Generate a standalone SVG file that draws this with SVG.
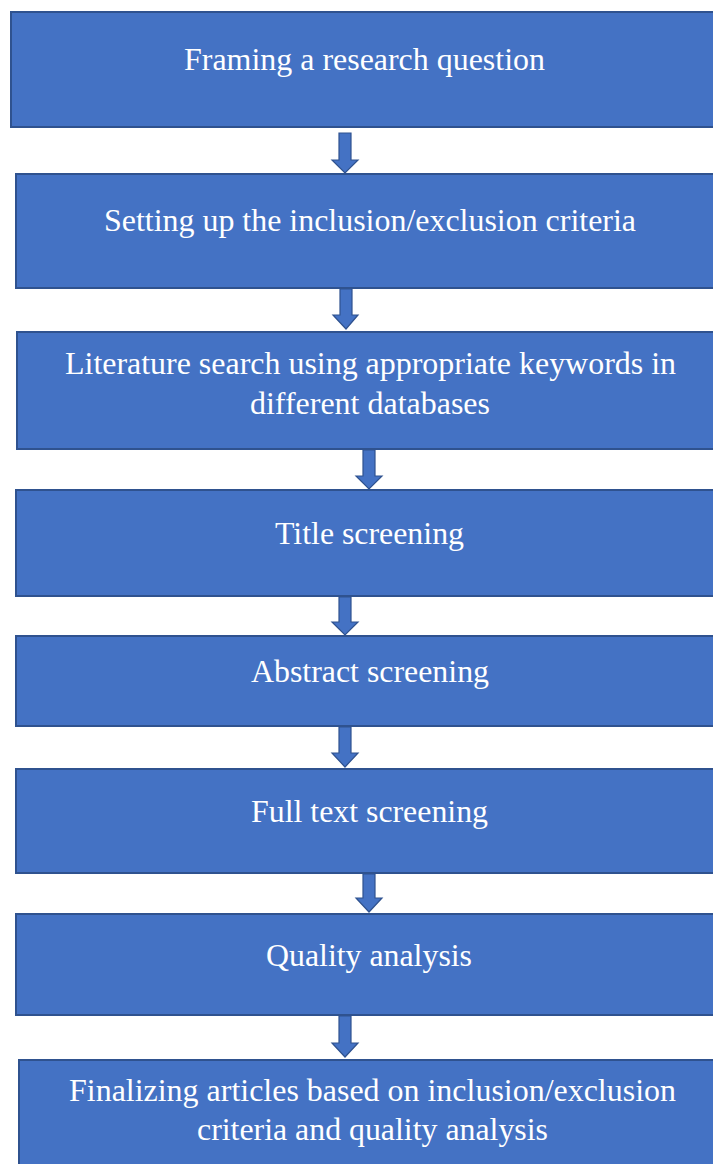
<svg xmlns="http://www.w3.org/2000/svg" width="713" height="1164" viewBox="0 0 713 1164">
  <style>
    .box { fill: #4472C4; stroke: #2F528F; stroke-width: 2; }
    .arrow { fill: #4472C4; stroke: #2F528F; stroke-width: 1.2; stroke-linejoin: miter; }
    .label { fill: #FFFFFF; font-family: "Liberation Serif", "Times New Roman", serif; font-size: 31px; text-anchor: middle; }
  </style>
  <rect width="713" height="1164" fill="#FFFFFF"/>

  <g id="connectors">
    <path class="arrow" d="M339,133 H351 V160 H358 L345,173 L332,160 H339 Z"/>
    <path class="arrow" d="M340,289 H352 V315 H358 L346,329 L333,315 H340 Z"/>
    <path class="arrow" d="M363,450 H375 V476 H382 L369,489 L356,476 H363 Z"/>
    <path class="arrow" d="M339,597 H351 V622 H358 L345,635 L332,622 H339 Z"/>
    <path class="arrow" d="M339,727 H351 V753 H358 L345,767 L332,753 H339 Z"/>
    <path class="arrow" d="M363,874 H375 V898 H382 L369,912 L356,898 H363 Z"/>
    <path class="arrow" d="M339,1016 H351 V1043 H358 L345,1057 L332,1043 H339 Z"/>
  </g>

  <g id="node-framing">
    <rect class="box" x="11" y="12" width="712" height="115"/>
    <text class="label" x="364.5" y="70" textLength="361" lengthAdjust="spacingAndGlyphs">Framing a research question</text>
  </g>

  <g id="node-criteria">
    <rect class="box" x="16" y="174" width="707" height="114"/>
    <text class="label" x="370" y="231" textLength="532" lengthAdjust="spacingAndGlyphs">Setting up the inclusion/exclusion criteria</text>
  </g>

  <g id="node-search">
    <rect class="box" x="17" y="332" width="706" height="117"/>
    <text class="label" x="370.5" y="374" textLength="611" lengthAdjust="spacingAndGlyphs">Literature search using appropriate keywords in</text>
    <text class="label" x="370" y="414" textLength="240" lengthAdjust="spacingAndGlyphs">different databases</text>
  </g>

  <g id="node-title">
    <rect class="box" x="16" y="490" width="707" height="106"/>
    <text class="label" x="369.5" y="544" textLength="189" lengthAdjust="spacingAndGlyphs">Title screening</text>
  </g>

  <g id="node-abstract">
    <rect class="box" x="16" y="636" width="707" height="90"/>
    <text class="label" x="370" y="682" textLength="238" lengthAdjust="spacingAndGlyphs">Abstract screening</text>
  </g>

  <g id="node-fulltext">
    <rect class="box" x="16" y="769" width="707" height="104"/>
    <text class="label" x="369.5" y="822" textLength="237" lengthAdjust="spacingAndGlyphs">Full text screening</text>
  </g>

  <g id="node-quality">
    <rect class="box" x="16" y="914" width="707" height="101"/>
    <text class="label" x="369" y="966" textLength="206" lengthAdjust="spacingAndGlyphs">Quality analysis</text>
  </g>

  <g id="node-final">
    <rect class="box" x="19" y="1060" width="704" height="120"/>
    <text class="label" x="372.5" y="1101" textLength="607" lengthAdjust="spacingAndGlyphs">Finalizing articles based on inclusion/exclusion</text>
    <text class="label" x="372.5" y="1140" textLength="351" lengthAdjust="spacingAndGlyphs">criteria and quality analysis</text>
  </g>
</svg>
